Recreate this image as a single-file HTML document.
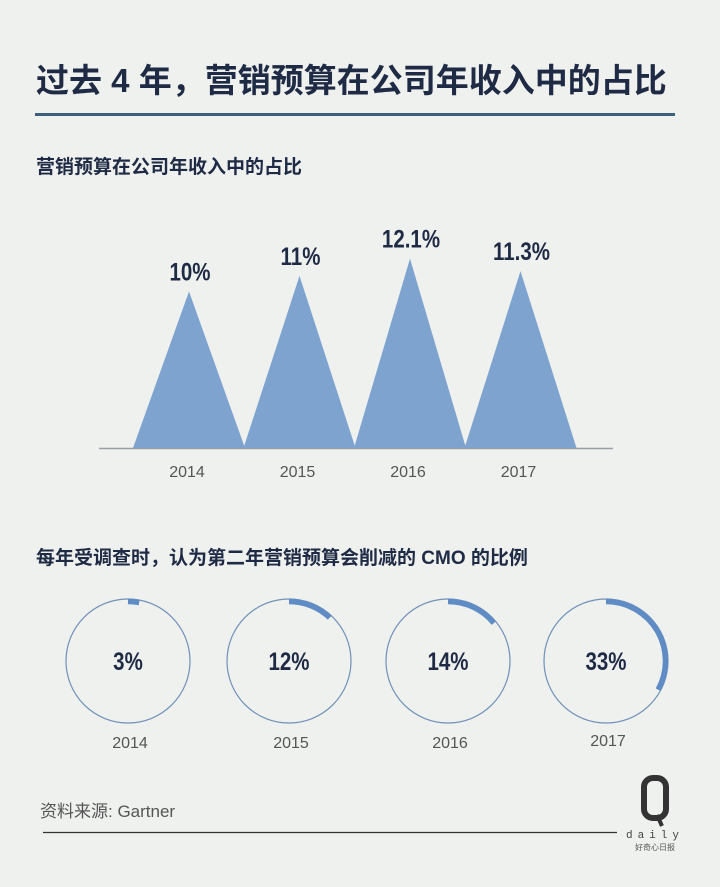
<!DOCTYPE html>
<html><head><meta charset="utf-8"><style>
html,body{margin:0;padding:0;background:#eef1ee;}
svg{display:block;font-family:"Liberation Sans","Noto Sans CJK SC",sans-serif;}
</style></head><body>
<svg width="720" height="887" viewBox="0 0 720 887">
<rect width="720" height="887" fill="#eef1ee"/>
<text x="36" y="92" font-size="33" font-weight="bold" fill="#1f2a44">过去 4 年，营销预算在公司年收入中的占比</text>
<rect x="35" y="113" width="640" height="3" fill="#3d5f7d"/>
<text x="36" y="173" font-size="19" font-weight="bold" fill="#1f2a44">营销预算在公司年收入中的占比</text>
<line x1="99" y1="448.5" x2="613" y2="448.5" stroke="#9aa0a6" stroke-width="1.5"/>
<g id="tri"></g>
<text x="36" y="564" font-size="19" font-weight="bold" fill="#1f2a44">每年受调查时，认为第二年营销预算会削减的 CMO 的比例</text>
<g id="donuts"></g>
<text x="40" y="817" font-size="17" fill="#555">资料来源: Gartner</text>
<line x1="43" y1="832.5" x2="617" y2="832.5" stroke="#333" stroke-width="1.2"/>
<g>
<rect x="644" y="778" width="22" height="40" rx="9" fill="none" stroke="#333" stroke-width="6"/>
<line x1="657" y1="815" x2="662" y2="826" stroke="#333" stroke-width="4"/>
<text x="655" y="838" font-size="11" fill="#444" text-anchor="middle" letter-spacing="5" font-family="Liberation Mono,monospace">daily</text>
<text x="655" y="850" font-size="8" fill="#555" text-anchor="middle">好奇心日报</text>
</g>
</svg>
<script>
const years=["2014","2015","2016","2017"];
const budgetShare=[10,11,12.1,11.3];
const budgetLabels=["10%","11%","12.1%","11.3%"];
const cmoShare=[3,12,14,33];
const cmoLabels=["3%","12%","14%","33%"];
const NS="http://www.w3.org/2000/svg";
function mk(t,a,p){const e=document.createElementNS(NS,t);for(const k in a)e.setAttribute(k,a[k]);p.appendChild(e);return e;}
const baseY=448, pxPer=15.65;
function xC(i){return 189+i*110.5;}
function yV(v){return baseY-v*pxPer;}
const tri=document.getElementById('tri');
budgetShare.forEach((v,i)=>{
 const cx=xC(i),w=56,ay=yV(v);
 const p=mk('polygon',{points:`${cx-w},${baseY} ${cx},${ay} ${cx+w},${baseY}`,fill:'#7ea3cf'},tri);
 
 
 const t=mk('text',{x:cx+1,y:ay-11,'font-size':25,'font-weight':'bold',fill:'#1f2a44','text-anchor':'middle',transform:`translate(${cx+1},0) scale(0.82,1) translate(${-(cx+1)},0)`},tri);
 t.textContent=budgetLabels[i];
 
 
 const y=mk('text',{x:cx-2,y:477,'font-size':16,fill:'#555','text-anchor':'middle'},tri);
 y.textContent=years[i];
 
 
});
const dn=document.getElementById('donuts');
const cxs=[128,289,448,606], cy=661, r=62;
cmoShare.forEach((v,i)=>{
 const cx=cxs[i];
 const c=mk('circle',{cx:cx,cy:cy,r:r,fill:'none',stroke:'#7090b8','stroke-width':1.2},dn);
 
 
 const ra=r-2.5, a=v/100*2*Math.PI;
 const x2=cx+ra*Math.sin(a), y2=cy-ra*Math.cos(a);
 const arc=mk('path',{d:`M${cx} ${cy-ra} A${ra} ${ra} 0 ${a>Math.PI?1:0} 1 ${x2} ${y2}`,fill:'none',stroke:'#5f8cc4','stroke-width':5.5},dn);
 
 
 const t=mk('text',{x:cx,y:cy+9,'font-size':25,'font-weight':'bold',fill:'#1f2a44','text-anchor':'middle',transform:`translate(${cx},0) scale(0.82,1) translate(${-cx},0)`},dn);
 t.textContent=cmoLabels[i];
 
 
 const y=mk('text',{x:cx+2,y:i==3?746:748,'font-size':16,fill:'#555','text-anchor':'middle'},dn);
 y.textContent=years[i];
 
 
});
</script>
</body></html>
